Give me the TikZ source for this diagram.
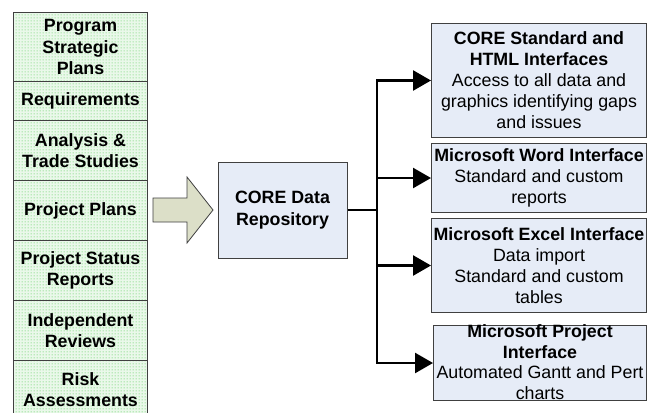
\documentclass[tikz,border=0pt]{standalone}
\usepackage{fontspec}
\setmainfont{Liberation Sans}
\usetikzlibrary{arrows.meta,patterns}
\pgfdeclarepatternformonly{greendots}{\pgfqpoint{0pt}{0pt}}{\pgfqpoint{3pt}{3pt}}{\pgfqpoint{3pt}{3pt}}%
{\pgfpathcircle{\pgfqpoint{1.5pt}{1.5pt}}{0.8pt}\pgfusepath{fill}}
\definecolor{boxblue}{HTML}{E6ECF7}
\definecolor{arrowfill}{HTML}{DCDFC8}
\definecolor{edgegray}{HTML}{404040}
\definecolor{dotgreen}{HTML}{7ED87E}
\definecolor{cellbase}{HTML}{EAF8EA}
\begin{document}
\begin{tikzpicture}[x=1pt,y=-1pt,
  txt/.style={font=\fontsize{17.8}{21}\selectfont, align=center, inner sep=0pt},
  cell/.style={txt, font=\fontsize{17.8}{21.5}\selectfont\bfseries, draw=edgegray, line width=1pt,
    preaction={fill=cellbase}, pattern=greendots, pattern color=dotgreen, minimum width=134pt, anchor=north west},
  frame/.style={draw=edgegray, line width=1pt, fill=boxblue, inner sep=0pt, anchor=north west},
  conn/.style={line width=2.5pt, black},
  tip/.style={-{Triangle[length=18pt,width=20pt]}}
]
\useasboundingbox (0,0) rectangle (647,412);
\clip (0,0) rectangle (647,412);
\fill[white] (0,0) rectangle (647,412);

% left column
\node[cell, minimum height=69pt] (c1) at (13,12) {Program\\Strategic\\Plans};
\node[cell, minimum height=39pt] (c2) at (13,81) {Requirements};
\node[cell, minimum height=60pt] (c3) at (13,120) {Analysis \&\\Trade Studies};
\node[cell, minimum height=60pt] (c4) at (13,180) {Project Plans};
\node[cell, minimum height=60pt] (c5) at (13,240) {Project Status\\Reports};
\node[cell, minimum height=60pt] (c6) at (13,300) {Independent\\Reviews};
\node[cell, minimum height=58pt] (c7) at (13,360) {Risk\\Assessments};

% big block arrow
\draw[draw=edgegray, fill=arrowfill, line width=0.8pt, line join=miter]
  (153,198) -- (187,198) -- (187,177) -- (213,210) -- (187,243) -- (187,222) -- (153,222) -- cycle;

% repository
\node[frame, anchor=center, minimum width=129pt, minimum height=96pt, txt, font=\fontsize{17.8}{21.5}\selectfont\bfseries] (repo) at (282.5,210) {CORE Data\\Repository};

% right boxes
\node[frame, minimum width=215pt, minimum height=114pt] (b1) at (431,23) {};
\node[frame, minimum width=215pt, minimum height=69pt] (b2) at (431,143) {};
\node[frame, minimum width=215pt, minimum height=94pt] (b3) at (431,218) {};
\node[frame, minimum width=213pt, minimum height=75pt] (b4) at (433,325) {};

\node[txt] (t1) at (b1.center) {\textbf{CORE Standard and}\\\textbf{HTML Interfaces}\\Access to all data and\\graphics identifying gaps\\and issues};
\node[txt] (t2) at (b2.center) {\textbf{Microsoft Word Interface}\\Standard and custom\\reports};
\node[txt] (t3) at (b3.center) {\textbf{Microsoft Excel Interface}\\Data import\\Standard and custom\\tables};
\node[txt, font=\fontsize{17.8}{20.5}\selectfont] (t4) at ([yshift=1pt]b4.center) {\textbf{Microsoft Project}\\\textbf{Interface}\\Automated Gantt and Pert\\charts};

% connectors
\coordinate (jn) at (377,210);
\draw[conn] (repo.east) -- (jn);
\draw[conn, tip] (jn) |- (b1.west);
\draw[conn, tip] (jn) |- (b2.west);
\draw[conn, tip] (jn) |- (b3.west);
\draw[conn, tip] (jn) |- (b4.west);
\end{tikzpicture}
\end{document}
